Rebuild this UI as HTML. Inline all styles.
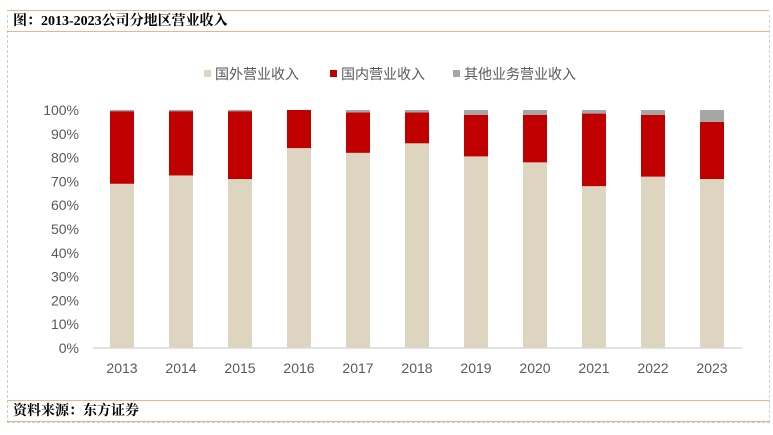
<!DOCTYPE html>
<html><head><meta charset="utf-8"><style>
body{margin:0;width:773px;height:435px;background:#fff;overflow:hidden;font-family:"Liberation Sans","Noto Sans CJK SC",sans-serif}
#frame{position:absolute;left:7px;top:15px;width:761px;height:407px;border-left:1px dashed #ccc;border-right:1px dashed #ccc;border-bottom:1px dashed #ccc}
.bar{position:absolute;left:7px;width:762px;height:22px;border-top:1px solid #f4b183;border-bottom:1px solid #f4b183;font-family:"Liberation Serif","Noto Serif CJK SC",serif;font-weight:bold;font-size:14px;line-height:22px;padding-left:6px;box-sizing:border-box;color:#000}
</style></head><body>
<div id="frame"></div>
<div class="bar" style="top:10px">图：2013-2023公司分地区营业收入</div>
<div class="bar" style="top:400px">资料来源：东方证券</div>
<svg id="c" width="773" height="435" style="position:absolute;left:0;top:0"></svg>
<script>
const years=["2013","2014","2015","2016","2017","2018","2019","2020","2021","2022","2023"];
const foreign=[69,72.5,71,84,82,86,80.5,78,68,72,71];
const domestic=[30.5,27,28.5,16,17,13,17.5,20,30.5,26,24];
const other=[0.5,0.5,0.5,0,1,1,2,2,1.5,2,5];
const yTicks=[0,10,20,30,40,50,60,70,80,90,100];
const legendNames=["国外营业收入","国内营业收入","其他业务营业收入"];
const colors=["#ddd5bf","#c00000","#a6a6a6"];
const NS="http://www.w3.org/2000/svg",svg=document.getElementById('c');
const y=v=>348-v*2.38, x=i=>122+i*59;
function mk(t,a,txt){const e=document.createElementNS(NS,t);for(const k in a)e.setAttribute(k,a[k]);if(txt!==undefined)e.textContent=txt;svg.appendChild(e);return e;}
yTicks.forEach(v=>{const t=mk('text',{x:79,y:y(v)+5,'text-anchor':'end','font-size':14,fill:'#595959'},v+'%');

});
years.forEach((yr,i)=>{
const segs=[foreign[i],domestic[i],other[i]];let base=0;
segs.forEach((v,s)=>{const r=mk('rect',{x:x(i)-12,y:y(base+v),width:24,height:v*2.38,fill:colors[s]});

base+=v;});
const t=mk('text',{x:x(i),y:373,'text-anchor':'middle','font-size':14,fill:'#595959'},yr);


});
const ax=mk('line',{x1:93,x2:742,y1:348,y2:348,stroke:'#d9d9d9','stroke-width':1.5});


const lx=[204,330,453];
legendNames.forEach((n,i)=>{const r=mk('rect',{x:lx[i],y:70,width:7,height:7,fill:colors[i]});


const t=mk('text',{x:lx[i]+11,y:79,'font-size':14,fill:'#595959'},n);

});
</script>
</body></html>
